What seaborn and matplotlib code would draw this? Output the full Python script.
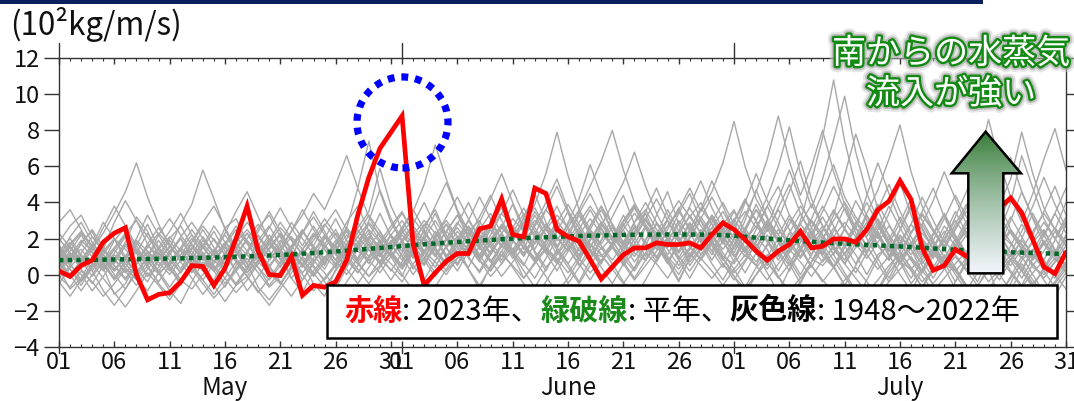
import numpy as np
import pandas as pd
import matplotlib
matplotlib.use("Agg")
import matplotlib.pyplot as plt
import matplotlib.patheffects as pe
import matplotlib.transforms as mtransforms
from matplotlib.patches import Rectangle, Ellipse, Polygon
from matplotlib.offsetbox import TextArea, HPacker, AnchoredOffsetbox
import seaborn as sns

# ---------------------------------------------------------------- data
# day index 0 = 1 May, 31 = 1 June, 61 = 1 July, 91 = 31 July
days = list(range(92))
month_names = ["May", "June", "July"]
month_start = [0, 31, 61]
month_label_day = [15, 46, 76]
tick_days = [0, 5, 10, 15, 20, 25, 30, 31, 36, 41, 46, 51, 56,
             61, 66, 71, 76, 81, 86, 91]
tick_labels = ["01", "06", "11", "16", "21", "26", "31",
               "01", "06", "11", "16", "21", "26",
               "01", "06", "11", "16", "21", "26", "31"]
y_ticks = [-4, -2, 0, 2, 4, 6, 8, 10, 12]

# 2023 southerly water-vapour flux (10^2 kg/m/s)
flux_2023 = [0.2, -0.1, 0.5, 0.8, 1.8, 2.3, 2.6, 0.0, -1.4, -1.1,
             -1.0, -0.4, 0.5, 0.45, -0.6, 0.35, 2.0, 3.8, 1.3, 0.0,
             -0.05, 1.0, -1.15, -0.6, -0.7, -0.4, 0.8, 3.3, 5.4, 7.0,
             7.9, 8.8, 1.7, -0.6, 0.1, 0.74, 1.17, 1.17, 2.54, 2.69,
             4.2, 2.22, 2.09, 4.8, 4.5, 2.5, 2.1, 1.85, 0.83, -0.24,
             0.43, 1.1, 1.48, 1.48, 1.76, 1.67, 1.67, 1.76, 1.48, 2.22,
             2.87, 2.5, 1.94, 1.3, 0.8, 1.3, 1.67, 2.4, 1.48, 1.57,
             1.98, 1.98, 1.8, 2.5, 3.6, 4.07, 5.2, 4.17, 1.48, 0.24,
             0.5, 1.39, 1.02, 1.5, 2.6, 3.7, 4.25, 3.43, 1.94, 0.43,
             0.06, 1.24]

# climatological normal
normal = [0.80, 0.81, 0.81, 0.82, 0.83, 0.84, 0.85, 0.86, 0.87, 0.88,
          0.89, 0.90, 0.92, 0.93, 0.95, 0.97, 0.99, 1.01, 1.03, 1.06,
          1.09, 1.12, 1.16, 1.20, 1.24, 1.28, 1.33, 1.38, 1.43, 1.48,
          1.53, 1.58, 1.63, 1.68, 1.72, 1.77, 1.81, 1.85, 1.89, 1.92,
          1.96, 1.99, 2.02, 2.05, 2.07, 2.10, 2.12, 2.14, 2.16, 2.17,
          2.19, 2.20, 2.21, 2.22, 2.22, 2.23, 2.23, 2.22, 2.22, 2.21,
          2.19, 2.15, 2.10, 2.05, 2.00, 1.95, 1.90, 1.86, 1.82, 1.78,
          1.74, 1.71, 1.68, 1.65, 1.62, 1.59, 1.56, 1.53, 1.49, 1.45,
          1.42, 1.38, 1.35, 1.32, 1.29, 1.27, 1.24, 1.22, 1.20, 1.18,
          1.16, 1.15]

# past seasons 1948-2022 (selection)
past_01 = [1.2, 0.5, 1.8, 2.4, 1.1, 0.2, 0.9, 1.6, 2.8, 1.5,
           0.4, -0.6, 0.8, 1.9, 1.2, 2.6, 3.1, 1.8, 0.7, 1.4,
           2.2, 0.9, -0.3, 0.6, 1.7, 2.5, 1.3, 0.8, 2.0, 3.4,
           2.1, 1.0, 1.9, 2.7, 3.6, 2.2, 1.1, 2.4, 3.0, 1.7,
           0.6, 1.8, 3.2, 4.5, 2.9, 1.6, 2.3, 1.0, 2.7, 3.8,
           2.4, 1.2, 0.3, 1.9, 3.3, 4.6, 2.8, 1.5, 2.2, 3.1,
           1.9, 0.7, 2.5, 3.9, 2.6, 1.3, 0.5, 1.8, 3.0, 2.2,
           1.1, 2.6, 4.1, 3.0, 1.6, 0.8, 2.1, 1.4, 0.2, 1.5,
           2.7, 1.9, 0.6, -0.4, 1.0, 2.3, 1.7, 0.9, 1.8, 2.5,
           1.3, 0.4]
past_02 = [0.3, -0.8, -0.2, 0.9, 0.4, -1.1, -0.5, 0.6, 1.2, 0.1,
           -0.9, -1.6, -0.4, 0.7, 0.2, -0.7, 0.5, 1.3, 0.4, -0.6,
           0.2, 1.1, 0.6, -0.5, -1.2, 0.3, 0.9, 1.6, 0.8, 0.1,
           1.0, 1.7, 0.5, -0.3, 0.8, 1.5, 2.1, 0.9, 0.2, 1.3,
           2.0, 1.1, -0.2, 0.6, 1.4, 0.8, -0.5, 0.4, 1.2, 2.3,
           1.6, 0.5, 1.3, 2.6, 1.8, 0.7, -0.4, 0.9, 1.7, 0.6,
           -0.3, 0.8, 1.9, 1.2, 0.1, -1.0, 0.3, 1.4, 2.2, 1.0,
           0.4, -0.6, 0.5, 1.6, 2.4, 1.1, 0.0, -0.9, 0.2, 1.3,
           0.7, -0.4, 0.6, 1.5, 0.3, -1.3, -0.5, 0.8, 1.4, 0.2,
           -0.7, 0.1]
past_03 = [1.8, 2.7, 3.3, 2.1, 1.4, 2.9, 4.1, 3.0, 1.7, 0.8,
           1.5, 2.8, 3.9, 5.8, 4.2, 2.5, 1.3, 0.6, 1.9, 2.7,
           1.6, 0.9, 2.3, 3.5, 2.4, 1.2, 2.6, 4.8, 7.4, 4.6,
           2.9, 1.8, 0.9, 2.2, 3.4, 2.0, 1.1, 0.4, 1.6, 2.9,
           3.7, 2.5, 1.4, 2.8, 4.0, 5.3, 3.6, 2.2, 1.0, 1.9,
           3.2, 4.4, 2.8, 1.6, 0.7, 1.8, 3.0, 2.1, 3.6, 5.2,
           3.8, 2.4, 1.3, 0.5, 1.7, 3.1, 4.6, 6.3, 4.2, 2.7,
           1.5, 0.6, 1.8, 3.3, 2.2, 1.0, 2.5, 3.9, 2.6, 1.4,
           0.3, 1.6, 2.8, 4.3, 3.1, 1.9, 0.8, 2.0, 3.4, 2.2,
           1.1, 2.9]
past_04 = [-0.5, 0.4, 1.1, 0.2, -0.9, -1.7, -0.8, 0.3, -0.4, 0.8,
           1.6, 0.7, -0.2, -1.1, -0.3, 0.9, 1.8, 0.6, -0.7, -1.4,
           -0.6, 0.5, 1.4, 0.8, 0.1, -0.8, 0.4, 1.5, 2.3, 1.2,
           0.6, -0.1, 1.3, 2.5, 3.8, 5.1, 3.5, 2.0, 0.9, 1.7,
           2.6, 3.9, 2.4, 1.2, 0.2, 1.4, 2.9, 4.2, 6.1, 4.4,
           2.7, 1.5, 2.3, 3.4, 2.0, 0.8, -0.3, 0.9, 2.1, 1.3,
           0.4, 1.6, 3.0, 4.7, 3.2, 1.8, 0.6, -0.5, 0.7, 1.9,
           3.3, 5.5, 7.8, 5.9, 3.6, 2.1, 0.9, 1.7, 0.5, -0.6,
           -1.5, -0.4, 0.8, 1.9, 1.1, 0.0, -0.9, 0.3, 1.4, 0.6,
           -0.2, 0.7]
past_05 = [0.9, 1.6, 0.8, -0.1, 0.7, 1.9, 2.6, 1.4, 0.5, 1.2,
           0.3, -0.4, 0.6, 1.5, 2.4, 1.3, 0.2, -0.9, -0.1, 0.8,
           1.7, 2.9, 2.0, 1.1, 0.3, 1.4, 2.2, 1.5, 0.6, 1.8,
           2.7, 3.5, 2.3, 1.2, 0.4, 1.6, 2.8, 4.0, 2.7, 1.5,
           0.8, 2.0, 3.1, 2.2, 3.6, 4.9, 3.4, 2.1, 1.3, 0.6,
           1.8, 2.9, 3.8, 2.6, 1.4, 2.5, 3.7, 2.4, 1.1, 1.9,
           2.8, 3.6, 2.3, 1.5, 2.7, 4.2, 5.8, 4.1, 2.6, 1.2,
           0.4, 1.7, 2.9, 2.0, 0.9, -0.2, 1.0, 2.3, 3.5, 4.8,
           3.2, 1.9, 0.8, 1.6, 2.8, 3.9, 2.5, 1.4, 0.5, 1.3,
           2.4, 1.6]
past_06 = [1.4, 0.6, -0.3, 0.5, 1.3, 0.7, 1.8, 3.2, 2.4, 1.0,
           0.2, 1.1, 2.0, 1.2, 0.4, -0.5, 0.3, 1.2, 2.6, 3.3,
           2.1, 1.0, 0.1, 0.9, 2.0, 3.1, 1.9, 0.7, 1.5, 2.4,
           1.3, 0.5, 1.4, 0.6, 1.7, 2.8, 1.6, 0.3, -0.8, 0.5,
           1.6, 2.4, 1.5, 0.7, 1.9, 3.0, 2.1, 3.3, 2.2, 1.1,
           0.3, 1.5, 2.7, 1.8, 0.9, 2.1, 3.4, 4.5, 3.0, 1.7,
           0.8, 2.0, 1.3, 2.5, 3.8, 2.6, 1.5, 3.0, 5.2, 7.6,
           10.8, 7.4, 4.9, 3.2, 2.0, 3.4, 5.1, 3.3, 1.8, 0.9,
           2.2, 3.5, 2.3, 1.2, 0.4, 1.6, 3.0, 4.6, 3.1, 1.7,
           0.8, 1.9]
past_07 = [0.1, 0.9, 1.7, 1.0, 0.2, 1.1, 0.4, -0.3, 0.5, 1.4,
           2.1, 1.3, 0.5, 1.6, 2.7, 1.8, 0.9, 0.1, 0.8, 1.7,
           0.9, -0.2, -1.0, 0.2, 1.0, 0.4, 1.3, 2.1, 1.4, 0.6,
           1.5, 2.4, 1.7, 0.8, 2.0, 1.1, 0.2, 1.3, 2.5, 3.4,
           2.3, 1.2, 0.5, 1.8, 2.6, 1.5, 0.6, -0.4, 0.8, 1.9,
           2.8, 1.7, 0.7, 1.6, 2.9, 2.0, 1.2, 2.4, 3.2, 2.3,
           1.2, 0.3, -0.7, 0.4, 1.1, -0.1, -1.2, -0.4, 0.7, 1.5,
           0.5, -0.6, -1.4, -0.3, 0.9, 1.8, 0.7, -0.5, 0.3, 1.2,
           0.4, -0.8, -1.9, -0.7, 0.5, 1.3, 0.2, -0.6, 0.6, -0.3,
           -1.2, -0.1]
past_08 = [2.3, 1.5, 0.7, 1.6, 2.9, 2.0, 0.8, 0.1, 1.0, 2.2,
           3.1, 2.2, 1.3, 0.5, 1.2, 2.3, 3.5, 4.6, 3.2, 1.9,
           0.8, 1.6, 2.5, 1.4, 0.5, 1.7, 2.9, 3.8, 2.4, 1.3,
           2.2, 1.0, 0.0, 0.9, 2.1, 3.2, 4.3, 3.1, 2.0, 1.1,
           2.3, 1.4, 0.6, -0.2, 0.9, 2.0, 1.3, 2.5, 3.6, 2.5,
           1.6, 0.8, 2.0, 3.1, 4.2, 3.0, 1.8, 0.7, 1.5, 2.6,
           3.5, 2.4, 4.0, 5.6, 4.1, 2.9, 1.7, 2.8, 3.9, 2.7,
           1.6, 0.8, 2.1, 3.4, 4.7, 6.4, 8.3, 5.7, 3.8, 2.5,
           1.4, 2.6, 3.7, 5.0, 3.6, 2.3, 1.2, 2.4, 3.8, 5.4,
           3.9, 2.6]
past_09 = [-0.2, 0.5, 0.0, -0.9, -0.1, 0.8, 0.2, -0.6, 0.3, 1.0,
           0.4, -0.4, 0.3, -0.5, -1.3, -0.6, 0.2, 0.9, 0.1, -0.7,
           -0.1, 0.7, 0.0, -0.9, -0.2, 0.6, 1.4, 0.7, -0.1, 0.5,
           1.2, 0.4, 1.3, 2.0, 1.1, 0.2, 0.9, 1.7, 0.8, -0.1,
           0.6, 1.4, 2.2, 1.3, 0.4, 1.1, 1.9, 0.9, 0.1, 0.8,
           1.5, 0.6, -0.3, 0.5, 1.3, 2.0, 1.0, 0.2, 1.1, 1.8,
           0.9, 0.1, 0.8, 1.7, 0.7, -0.2, 0.6, 1.5, 0.5, -0.4,
           0.4, 1.2, 2.0, 1.1, 0.3, 1.0, 1.8, 0.8, -0.1, -0.9,
           -0.2, 0.6, 1.3, 0.5, -0.4, 0.3, 1.1, 0.4, -0.5, 0.2,
           0.9, 0.1]
past_10 = [1.0, 2.1, 2.9, 1.8, 0.9, 0.2, 1.0, 2.0, 3.3, 2.2,
           1.2, 0.3, 1.4, 2.5, 1.5, 0.6, 1.5, 2.3, 1.2, 0.4,
           1.3, 2.4, 3.6, 2.5, 1.4, 0.6, 1.7, 2.6, 3.5, 5.9,
           3.8, 2.5, 1.2, 0.5, 1.6, 2.4, 3.3, 2.1, 1.0, 2.2,
           3.4, 4.7, 3.3, 2.0, 1.2, 2.4, 3.5, 2.6, 1.5, 2.7,
           3.9, 5.1, 6.8, 4.9, 3.4, 2.2, 1.3, 2.5, 3.7, 2.8,
           1.7, 2.9, 4.1, 3.0, 1.9, 1.0, 2.3, 3.4, 2.3, 1.1,
           2.4, 3.7, 2.5, 4.4, 6.2, 4.5, 3.0, 1.8, 1.0, 2.2,
           3.3, 2.1, 1.1, 2.3, 3.6, 2.4, 4.0, 6.6, 4.8, 3.1,
           2.0, 3.2]
past_11 = [0.6, -0.2, 0.8, 1.5, 0.6, -0.3, 0.4, 1.3, 0.5, -0.5,
           -1.2, -0.4, 0.4, 1.2, 0.5, -0.2, -1.0, -0.3, 0.6, 1.5,
           2.3, 1.3, 0.4, 1.2, 2.1, 1.2, 0.3, -0.5, 0.4, 1.3,
           2.2, 3.0, 2.0, 1.0, 0.1, 0.9, 1.8, 2.7, 1.8, 0.8,
           -0.1, 0.7, 1.6, 0.8, -0.1, -1.0, -0.2, 0.8, 1.9, 2.8,
           1.9, 0.9, 0.2, 1.2, 2.3, 1.4, 0.5, 1.4, 2.5, 1.6,
           0.6, -0.3, 0.7, 1.8, 2.9, 1.9, 0.8, -0.2, 0.7, 1.7,
           0.8, -0.1, -1.0, -1.8, -0.9, 0.1, 1.0, 0.2, -0.7, 0.2,
           1.1, 0.3, -0.6, -1.4, -2.0, -1.1, -0.2, 0.6, -0.3, -1.1,
           -0.4, 0.5]
past_12 = [2.9, 3.6, 2.5, 1.4, 2.6, 3.8, 2.7, 1.6, 0.6, 1.5,
           2.4, 3.4, 2.2, 1.1, 0.3, 1.2, 2.1, 1.3, 2.4, 3.5,
           2.4, 1.4, 0.5, 1.6, 2.7, 3.6, 2.5, 1.5, 3.0, 4.7,
           3.1, 1.9, 2.8, 4.0, 2.7, 1.5, 0.6, 1.7, 2.9, 4.2,
           5.6, 4.0, 2.6, 1.4, 2.6, 3.8, 2.5, 1.3, 2.5, 3.6,
           2.4, 1.3, 2.4, 3.5, 4.8, 3.3, 2.1, 1.0, 2.1, 3.3,
           2.2, 1.2, 2.4, 3.6, 2.4, 3.7, 5.0, 3.4, 2.2, 3.5,
           4.9, 3.6, 2.3, 1.2, 2.5, 3.8, 2.6, 1.5, 2.8, 4.1,
           5.7, 4.2, 2.8, 1.6, 2.7, 3.9, 5.3, 7.9, 5.6, 3.7,
           2.5, 4.0]
past_13 = [0.4, 1.2, 0.3, -0.5, 0.5, 1.4, 2.2, 1.3, 0.4, -0.4,
           0.5, 1.4, 0.6, -0.3, 0.6, 1.6, 0.8, -0.1, -1.0, -0.2,
           0.7, 1.6, 0.8, 0.0, 0.9, 1.9, 1.0, 0.1, 1.0, 1.9,
           1.0, 0.0, -0.9, -1.6, -0.7, 0.3, 1.2, 0.3, -0.6, 0.4,
           1.3, 0.4, -0.5, -1.3, -0.4, 0.6, 1.5, 0.6, -0.3, 0.7,
           1.6, 0.7, -0.2, 0.8, 1.8, 0.9, 0.0, 1.1, 2.0, 1.1,
           2.2, 3.1, 2.1, 1.2, 0.3, 1.3, 2.3, 1.4, 0.4, 1.5,
           2.6, 1.6, 0.6, 1.7, 2.9, 1.8, 0.8, -0.2, 0.8, 1.9,
           1.0, 0.0, -0.9, 0.1, 1.2, 2.1, 1.2, 0.2, -0.7, 0.4,
           1.4, 0.5]
past_14 = [1.6, 0.8, 1.7, 2.5, 1.5, 0.5, -0.3, 0.6, 1.7, 2.6,
           1.7, 0.7, 1.8, 2.9, 3.8, 2.6, 1.5, 0.6, 1.6, 2.6,
           3.7, 2.6, 1.6, 2.7, 1.7, 0.8, 2.0, 2.9, 1.8, 0.7,
           1.7, 2.6, 3.6, 2.5, 1.4, 0.6, 1.8, 3.0, 4.3, 3.1,
           1.9, 0.9, 2.1, 3.3, 2.2, 1.1, 2.3, 3.4, 4.5, 3.2,
           2.0, 3.3, 2.1, 1.0, 2.2, 3.6, 2.4, 3.8, 5.2, 3.7,
           2.5, 1.4, 2.6, 1.5, 0.5, 1.7, 3.1, 2.1, 1.1, 2.4,
           3.6, 2.6, 1.5, 2.7, 3.9, 2.8, 1.6, 2.8, 4.3, 3.0,
           1.8, 3.2, 4.6, 6.0, 8.6, 6.2, 4.3, 2.9, 4.5, 6.4,
           8.1, 5.8]
past_15 = [0.7, 1.5, 0.6, 1.6, 0.7, -0.2, 0.8, 1.8, 1.0, 0.2,
           1.1, 2.0, 1.1, 0.2, 1.3, 2.2, 1.3, 0.3, 1.4, 0.5,
           -0.4, -1.2, -0.3, 0.7, 1.6, 0.8, 0.0, 0.9, 2.0, 1.1,
           0.2, 1.2, 2.3, 1.3, 2.4, 1.5, 0.5, 1.6, 0.7, 1.8,
           2.8, 1.9, 1.0, 2.1, 1.2, 0.2, 1.3, 2.4, 1.4, 0.4,
           -0.5, 0.6, 1.7, 2.7, 1.7, 0.7, 1.8, 2.9, 1.9, 0.8,
           1.9, 3.0, 4.2, 2.9, 1.8, 0.8, 1.9, 1.0, 2.1, 3.2,
           2.1, 1.1, 0.1, 1.2, 2.3, 1.3, 2.5, 3.7, 2.5, 1.4,
           0.5, 1.5, 2.6, 1.6, 0.6, 1.7, 0.8, -0.2, 0.9, 1.9,
           1.0, 2.2]
past_16 = [1.1, 0.3, -0.6, 0.4, 1.4, 0.6, 1.6, 0.8, -0.1, 0.9,
           1.9, 1.0, 0.1, 1.0, 2.0, 1.1, 0.2, 1.2, 2.2, 1.3,
           0.4, 1.4, 2.4, 1.5, 0.6, 1.6, 0.7, 1.8, 2.8, 1.9,
           1.0, 1.9, 1.0, 2.0, 3.0, 2.0, 1.0, 2.1, 1.1, 0.2,
           1.3, 2.3, 3.4, 2.4, 1.4, 2.5, 1.5, 0.5, 1.5, 2.6,
           1.6, 2.7, 3.7, 2.6, 1.6, 0.6, 1.7, 2.8, 1.8, 2.9,
           4.0, 2.8, 1.8, 3.0, 4.3, 6.0, 8.2, 5.6, 3.7, 5.3,
           7.5, 9.9, 6.8, 4.5, 3.0, 1.9, 3.2, 2.1, 1.1, 2.3,
           3.4, 2.2, 1.2, 2.4, 1.4, 0.4, 1.6, 2.8, 1.8, 0.8,
           1.9, 3.0]
past_17 = [-0.4, -1.2, -0.3, 0.6, -0.2, -1.0, -1.8, -0.9, 0.1, -0.6,
           -1.4, -0.5, 0.4, -0.3, -1.1, -0.2, 0.7, -0.1, -0.9, -1.7,
           -0.8, 0.1, 0.9, 0.1, -0.7, 0.2, 1.1, 0.3, -0.5, 0.4,
           1.3, 0.5, 1.5, 2.4, 1.5, 0.6, 1.6, 2.6, 1.6, 0.7,
           1.7, 2.7, 1.8, 0.8, 1.9, 2.9, 3.9, 2.8, 1.7, 0.7,
           1.8, 2.8, 1.8, 0.8, 1.9, 3.0, 2.0, 1.0, 2.1, 3.2,
           2.1, 1.1, 0.1, 1.2, 2.2, 1.2, 0.2, 1.3, 2.4, 1.4,
           0.4, 1.5, 2.6, 1.6, 0.6, -0.4, 0.7, 1.8, 0.8, -0.2,
           0.9, 2.0, 1.0, 0.0, 1.1, 2.2, 1.2, 0.2, 1.3, 2.4,
           1.4, 0.4]
past_18 = [0.5, 1.3, 2.2, 1.2, 0.3, 1.2, 2.1, 1.2, 2.3, 1.4,
           0.5, 1.5, 2.5, 1.6, 0.7, 1.7, 2.7, 1.8, 0.9, 1.9,
           2.9, 2.0, 1.1, 2.1, 3.1, 2.2, 1.3, 2.3, 3.3, 2.4,
           1.5, 2.5, 3.5, 5.0, 7.2, 5.3, 3.6, 2.4, 1.4, 2.5,
           1.5, 2.6, 3.7, 2.6, 1.6, 2.7, 1.7, 0.8, 1.9, 2.9,
           1.9, 0.9, 2.0, 3.1, 2.1, 1.1, 2.2, 3.3, 2.3, 1.3,
           2.4, 3.5, 2.4, 1.4, 2.5, 3.6, 2.5, 1.5, 2.6, 3.8,
           2.7, 1.6, 2.8, 4.0, 2.8, 1.7, 2.9, 4.2, 3.0, 1.9,
           3.1, 4.4, 3.2, 2.0, 3.3, 4.7, 6.5, 4.6, 3.2, 2.1,
           3.4, 4.8]
past_19 = [1.3, 2.0, 1.1, 0.2, 1.1, 2.0, 1.0, 0.0, 1.0, 1.9,
           1.0, 0.1, 1.1, 2.1, 1.2, 0.3, -0.5, 0.4, 1.3, 2.2,
           1.3, 0.4, 1.4, 2.3, 1.4, 0.5, 1.5, 2.5, 1.6, 0.7,
           1.7, 0.8, 1.8, 2.8, 1.9, 1.0, 2.0, 3.0, 2.1, 1.2,
           2.2, 1.3, 2.4, 3.5, 2.5, 1.5, 2.6, 1.6, 2.7, 3.8,
           2.8, 1.8, 2.9, 4.0, 2.9, 1.9, 0.9, 2.0, 3.1, 4.3,
           3.1, 2.0, 3.3, 4.6, 6.4, 8.8, 6.3, 4.4, 6.0, 8.0,
           5.7, 3.9, 2.6, 1.5, 2.7, 1.6, 0.6, 1.7, 2.8, 1.7,
           0.7, 1.8, 3.0, 1.9, 0.8, 2.0, 3.2, 2.1, 1.0, 2.2,
           3.4, 2.3]
past_20 = [0.8, 0.0, -0.9, 0.0, 0.9, 0.0, -0.8, 0.1, 1.0, 0.2,
           -0.7, 0.2, 1.1, 0.3, -0.6, -1.5, -0.6, 0.3, 1.2, 0.4,
           -0.5, 0.4, 1.3, 0.5, -0.4, -1.3, -0.4, 0.5, 1.4, 0.6,
           -0.3, 0.7, 1.6, 0.8, -0.1, 0.9, 1.9, 1.0, 0.1, 1.1,
           2.1, 1.2, 0.2, -0.7, 0.3, 1.3, 0.4, -0.5, 0.5, 1.5,
           0.6, -0.4, -1.3, -0.3, 0.8, 1.8, 0.8, -0.2, 0.9, 1.9,
           0.9, -0.1, -1.1, 0.0, 1.0, 2.0, 1.0, 0.0, 1.1, 2.1,
           1.1, 0.1, -0.9, -1.9, -0.8, 0.3, 1.3, 0.3, -0.7, 0.4,
           1.4, 0.4, -0.6, -1.6, -2.3, -1.2, -0.1, 1.0, 0.0, -1.0,
           0.1, 1.1]
past_21 = [0.9, 1.7, 2.4, 1.6, 0.8, 1.5, 2.3, 3.0, 2.1, 1.2,
           0.6, 1.4, 2.2, 1.5, 0.7, 1.6, 2.5, 1.7, 0.9, 1.8,
           2.6, 1.9, 1.1, 1.9, 2.8, 2.0, 1.2, 2.1, 2.9, 2.2,
           1.4, 2.3, 3.1, 2.3, 1.5, 2.4, 3.3, 2.5, 1.7, 2.6,
           3.4, 2.6, 1.8, 2.7, 3.6, 2.8, 1.9, 2.9, 3.8, 2.9,
           2.0, 3.0, 3.9, 3.0, 2.1, 3.1, 4.1, 3.2, 2.3, 3.3,
           2.4, 1.6, 2.6, 3.6, 2.7, 1.8, 2.8, 3.8, 2.9, 2.0,
           3.0, 4.0, 3.0, 2.1, 3.1, 2.2, 1.3, 2.3, 3.3, 2.4,
           1.5, 2.5, 3.5, 2.6, 1.7, 2.7, 1.8, 0.9, 1.9, 2.9,
           2.0, 1.1]
past_22 = [0.2, 1.1, 1.4, 0.6, 0.3, 0.9, 1.7, 1.2, -0.1, 0.4,
           1.3, 2.0, 0.9, 0.5, 1.2, 1.5, 0.7, 0.1, 1.1, 1.8,
           1.2, -0.2, 0.6, 1.5, 0.9, 1.6, 2.4, 1.3, 0.8, 1.1,
           2.2, 1.5, 0.3, 1.2, 2.1, 0.9, 0.6, 1.4, 2.0, 2.7,
           1.6, 1.1, 1.9, 2.4, 1.5, 0.7, 1.8, 2.6, 1.3, 1.0,
           1.7, 2.5, 1.2, 0.8, 1.6, 2.3, 1.9, 0.5, 1.4, 2.2,
           1.0, 0.6, 1.5, 2.1, 1.4, 0.2, 1.3, 2.0, 0.9, 0.5,
           1.2, 1.9, 1.1, 0.0, 1.1, 1.6, 0.7, 0.3, 1.0, 1.8,
           0.6, 0.2, 0.9, 1.3, 0.5, -0.3, 0.8, 1.5, 0.4, 0.0,
           0.7, 1.2]
past_23 = [1.5, 0.7, 1.2, 2.1, 1.3, 0.9, 0.1, 0.8, 1.6, 1.1,
           2.0, 2.7, 1.6, 0.8, 1.4, 0.5, 1.1, 2.0, 2.8, 1.9,
           1.0, 1.5, 2.3, 3.2, 2.2, 1.1, 0.5, 1.4, 2.1, 1.6,
           2.5, 3.4, 2.4, 1.6, 2.2, 3.0, 2.1, 1.3, 2.4, 1.8,
           1.0, 2.2, 2.9, 3.7, 2.6, 1.9, 2.8, 3.5, 2.3, 1.4,
           2.1, 1.7, 2.9, 3.6, 2.5, 1.6, 2.4, 3.2, 4.0, 2.8,
           1.9, 2.7, 3.5, 2.6, 3.8, 4.9, 3.3, 2.2, 3.1, 4.5,
           6.1, 4.3, 3.2, 2.4, 3.6, 5.0, 3.5, 2.3, 3.4, 2.5,
           1.6, 2.8, 3.9, 2.7, 1.8, 3.0, 4.4, 3.1, 2.2, 3.5,
           4.9, 3.3]
past_24 = [-0.1, -0.7, 0.2, -0.4, -1.2, -0.5, 0.3, -0.2, -0.9, 0.1,
           0.6, -0.3, -0.8, 0.0, 0.8, 0.2, -0.6, -0.1, 0.7, 0.1,
           -0.5, 0.3, 1.0, 0.4, -0.3, 0.5, 1.2, 0.6, -0.1, 0.8,
           0.3, -0.4, 0.6, 1.3, 0.7, 0.0, 0.9, 1.6, 0.8, 0.2,
           1.1, 0.5, -0.2, 0.7, 1.5, 0.9, 0.1, 1.0, 1.7, 1.1,
           0.3, -0.5, 0.4, 1.2, 0.6, -0.2, 0.8, 1.5, 0.9, 0.2,
           -0.6, 0.3, 1.1, 0.5, -0.3, 0.6, 1.4, 0.7, -0.1, 0.8,
           1.5, 0.6, -0.2, -1.0, -0.3, 0.5, 1.2, 0.4, -0.4, 0.3,
           1.0, 0.2, -0.7, -1.5, -0.8, 0.1, 0.9, 0.2, -0.6, -1.3,
           -0.5, 0.3]
past_25 = [1.1, 1.8, 1.0, 0.4, 1.3, 2.0, 1.4, 0.7, 1.5, 2.3,
           1.6, 0.9, 1.7, 1.0, 0.2, 0.9, 1.8, 2.5, 1.7, 1.0,
           1.9, 1.2, 0.5, 1.3, 2.2, 1.5, 0.8, 1.7, 2.5, 1.8,
           1.0, 1.9, 2.7, 1.9, 1.1, 2.0, 2.9, 2.1, 3.2, 4.4,
           3.0, 1.9, 2.8, 3.9, 5.6, 7.9, 5.5, 3.6, 2.5, 1.7,
           2.6, 1.8, 1.0, 1.9, 2.8, 2.0, 1.2, 2.1, 3.0, 2.2,
           1.4, 2.3, 1.5, 0.7, 1.6, 2.5, 1.7, 0.9, 1.8, 2.7,
           1.9, 1.1, 2.0, 2.9, 2.1, 1.3, 2.2, 1.4, 0.6, 1.5,
           2.4, 1.6, 0.8, 1.7, 2.6, 1.8, 1.0, 1.9, 1.1, 0.3,
           1.2, 2.1]
past_26 = [2.0, 1.2, 0.5, 1.4, 2.3, 3.4, 4.6, 6.2, 4.3, 2.8,
           1.6, 0.9, 1.8, 2.7, 1.9, 1.1, 2.0, 2.9, 2.1, 1.3,
           0.6, 1.5, 2.4, 1.6, 0.8, 1.7, 2.6, 1.8, 1.0, 1.9,
           1.1, 0.3, 1.2, 2.1, 1.3, 0.5, 1.4, 2.3, 1.5, 0.7,
           1.6, 2.5, 1.7, 0.9, 1.8, 2.7, 1.9, 1.1, 2.0, 2.9,
           2.1, 1.3, 2.2, 3.1, 2.3, 1.5, 2.4, 1.6, 0.8, 1.7,
           2.6, 1.8, 1.0, 1.9, 2.8, 2.0, 1.2, 2.1, 3.0, 2.2,
           1.4, 0.6, 1.5, 2.4, 1.6, 0.8, 1.7, 0.9, 0.1, 1.0,
           1.9, 1.1, 0.3, 1.2, 2.1, 1.3, 0.5, 1.4, 0.6, -0.2,
           0.7, 1.6]
past_27 = [0.6, 0.0, 0.8, 1.7, 1.1, 0.3, 1.0, 1.9, 1.3, 0.5,
           1.2, 2.1, 2.9, 2.0, 1.2, 0.6, 1.4, 2.3, 1.6, 0.8,
           1.5, 2.4, 3.3, 4.5, 3.6, 5.0, 6.6, 4.8, 3.2, 2.1,
           1.3, 2.2, 1.4, 0.6, 1.5, 2.4, 1.8, 1.0, 1.9, 2.8,
           2.0, 1.2, 2.1, 3.0, 2.2, 1.4, 0.6, 1.5, 2.4, 1.6,
           0.8, 1.7, 2.6, 1.8, 1.0, 1.9, 2.8, 3.7, 2.7, 1.9,
           2.8, 2.0, 1.2, 2.1, 3.0, 2.2, 1.4, 2.3, 1.5, 0.7,
           1.6, 2.5, 1.7, 0.9, 1.8, 2.7, 1.9, 1.1, 2.0, 1.2,
           0.4, 1.3, 2.2, 1.4, 0.6, 1.5, 2.4, 1.6, 0.8, 1.7,
           2.6, 1.8]
past_28 = [1.0, 0.3, -0.4, 0.4, 1.1, 0.5, -0.2, 0.6, 1.3, 0.7,
           0.0, 0.8, 1.5, 0.9, 0.2, 1.0, 1.7, 1.1, 0.4, -0.3,
           0.5, 1.2, 0.6, -0.1, 0.7, 1.4, 0.8, 0.1, 0.9, 1.6,
           1.0, 1.8, 2.5, 1.7, 1.0, 1.9, 2.6, 1.8, 1.1, 2.0,
           2.7, 1.9, 1.2, 2.1, 1.3, 0.6, 1.5, 2.2, 1.4, 0.7,
           1.6, 2.3, 1.5, 0.8, 1.7, 1.0, 0.3, 1.2, 0.5, -0.2,
           0.6, -0.1, -0.8, 0.0, 0.7, -0.1, -0.9, -0.2, 0.5, -0.3,
           -1.0, -0.3, 0.4, -0.4, -1.1, -0.4, 0.3, 1.0, 0.2, -0.5,
           0.3, 1.0, 0.2, -0.6, 0.2, 0.9, 0.1, -0.7, 0.1, 0.8,
           0.0, -0.8]
past_29 = [0.8, 1.6, 2.3, 1.5, 0.7, 1.4, 0.6, -0.1, 0.7, 1.5,
           0.8, 0.1, 0.9, 1.7, 1.0, 0.3, 1.1, 1.9, 1.2, 0.5,
           1.3, 2.1, 1.4, 0.7, 1.5, 2.3, 1.6, 0.9, 1.7, 1.0,
           1.8, 2.6, 1.9, 1.2, 2.0, 2.8, 2.1, 1.4, 2.2, 1.5,
           2.3, 3.1, 2.4, 1.7, 2.5, 3.3, 2.6, 3.6, 4.9, 6.3,
           8.0, 5.8, 4.0, 2.8, 1.9, 2.7, 3.5, 2.6, 1.8, 2.6,
           1.8, 1.0, 1.9, 2.7, 1.9, 1.1, 2.0, 2.8, 2.0, 1.2,
           2.1, 2.9, 2.1, 1.3, 2.2, 1.4, 0.6, 1.5, 2.3, 1.5,
           0.7, 1.6, 2.4, 1.6, 0.8, 1.7, 2.5, 1.7, 0.9, 1.8,
           1.0, 0.2]
past_30 = [0.4, 1.0, 1.9, 1.3, 0.5, -0.2, 0.6, 1.4, 0.8, 0.0,
           0.7, 1.5, 0.9, 0.2, 1.0, 1.8, 1.2, 0.4, 1.2, 2.0,
           1.4, 0.6, 1.4, 2.2, 1.6, 0.8, 1.6, 2.4, 1.8, 1.0,
           1.9, 1.3, 2.2, 3.0, 2.3, 1.5, 2.4, 1.7, 0.9, 1.8,
           2.6, 1.9, 1.1, 2.0, 2.8, 2.1, 1.3, 2.2, 3.1, 2.3,
           1.6, 2.5, 3.4, 2.6, 1.8, 2.7, 3.6, 4.8, 3.5, 4.6,
           6.2, 8.5, 6.0, 4.2, 3.1, 2.2, 3.3, 2.4, 1.5, 2.5,
           3.5, 2.5, 1.6, 2.6, 1.7, 0.8, 1.8, 2.8, 1.9, 1.0,
           2.0, 3.0, 2.1, 1.2, 2.2, 3.2, 2.3, 1.4, 2.4, 3.4,
           2.5, 1.6]

past_runs = [past_01, past_02, past_03, past_04, past_05, past_06, past_07,
             past_08, past_09, past_10, past_11, past_12, past_13, past_14,
             past_15, past_16, past_17, past_18, past_19, past_20, past_21,
             past_22, past_23, past_24, past_25, past_26, past_27, past_28,
             past_29, past_30]

# ---------------------------------------------------------------- style
sns.set_theme(style="white")
plt.rcParams["font.family"] = ["Noto Sans CJK JP", "DejaVu Sans"]
plt.rcParams["axes.unicode_minus"] = True

W, H = 1074, 401
fig = plt.figure(figsize=(W / 100, H / 100), dpi=100)
fig.patch.set_facecolor("white")


def fx(px):
    return px / W


def fy(py):
    return 1 - py / H


ax_left, ax_right, ax_top, ax_bottom = 59, 1066, 58.3, 346.7
ax_h = ax_bottom - ax_top
ax = fig.add_axes([fx(ax_left), fy(ax_bottom), fx(ax_right - ax_left),
                   ax_h / H])
ax.set_facecolor("white")

GRAY = "#a8a8a8"
RED = "#ff0000"
GREEN = "#00692a"
AXC = "#333333"
TXT = "#111111"

# past seasons
past_df = pd.DataFrame({
    "day": days * len(past_runs),
    "value": [v for run in past_runs for v in run],
    "run": [k for k, run in enumerate(past_runs) for _ in run],
})
sns.lineplot(data=past_df, x="day", y="value", units="run", estimator=None,
             color=GRAY, lw=1.0, ax=ax, legend=False, zorder=1)

# normal
sns.lineplot(x=days, y=normal, color=GREEN, lw=3.2, ax=ax,
             linestyle=(0, (1, 0.95)), dash_capstyle="butt", zorder=3)

# 2023
sns.lineplot(x=days, y=flux_2023, color=RED, lw=3.4, ax=ax,
             solid_joinstyle="miter", zorder=4)

ax.set_xlim(0, 91)
ax.set_ylim(-4, 12)
ax.set_xlabel("")
ax.set_ylabel("")

# axes frame and ticks
for s in ax.spines.values():
    s.set_color(AXC)
    s.set_linewidth(1.0)
    s.set_visible(True)

ax.set_yticks(y_ticks)
ax.set_yticklabels([str(v).replace("-", "\u2212") for v in y_ticks])
ax.tick_params(axis="y", which="major", direction="out", left=True,
               right=True, length=11, width=1.0, color=AXC, pad=3,
               labelsize=17, labelcolor=TXT)
for t in ax.yaxis.get_major_ticks():
    t.tick2line.set_markersize(6)

ax.set_xticks(tick_days)
ax.set_xticklabels(tick_labels)
ax.set_xticks(days, minor=True)
ax.tick_params(axis="x", which="major", direction="in", top=True,
               bottom=True, length=4.5, width=1.0, color=AXC, pad=3,
               labelsize=17, labelcolor=TXT)
ax.tick_params(axis="x", which="minor", direction="in", top=True,
               bottom=True, length=2.2, width=0.8, color=AXC)

# month boundary marks reaching outside the frame
trans = mtransforms.blended_transform_factory(ax.transData, ax.transAxes)
for d in month_start:
    ax.plot([d, d], [1.0, 1.0 + 15 / ax_h], color=AXC, lw=1.0,
            transform=trans, clip_on=False, zorder=6)
    ax.plot([d, d], [0.0, -6 / ax_h], color=AXC, lw=1.0,
            transform=trans, clip_on=False, zorder=6)

for name, d in zip(month_names, month_label_day):
    ax.text(d, -(388 - ax_bottom) / ax_h, name, transform=trans,
            ha="center", va="center", fontsize=17.5, color=TXT)

# unit label
fig.text(fx(10), fy(24), "(10²kg/m/s)", fontsize=22.5, va="center",
         ha="left", color=TXT)

# header rule
fig.add_artist(Rectangle((0, fy(3.5)), fx(983), 3.5 / H,
                         transform=fig.transFigure, facecolor="#0b1f5e",
                         edgecolor="none", zorder=10))

# dotted circle around the peak
ax.add_patch(Ellipse((31.04, 8.44), width=8.22, height=5.05, fill=False,
                     edgecolor="#0000ff", lw=5.2,
                     linestyle=(0, (0.95, 0.95)), capstyle="butt",
                     zorder=7, clip_on=False))

# gradient arrow
arrow_xy = [(83.74, 7.93), (86.93, 5.62), (85.33, 5.62), (85.33, 0.07),
            (82.17, 0.07), (82.17, 5.62), (80.67, 5.62)]
arrow = Polygon(arrow_xy, closed=True, facecolor="none", edgecolor="black",
                lw=1.8, zorder=9, joinstyle="miter")
top_col = np.array([0.17, 0.46, 0.17])
bot_col = np.array([0.95, 0.96, 0.99])
t = np.linspace(0, 1, 256)[:, None] ** 0.75
grad = (top_col[None, :] * (1 - t) + bot_col[None, :] * t)[:, None, :]
img = ax.imshow(grad, extent=[80.67, 86.93, 0.07, 7.93], origin="upper",
                aspect="auto", zorder=8, interpolation="bilinear")
clip = Polygon(arrow_xy, closed=True, transform=ax.transData)
img.set_clip_path(clip)
ax.add_patch(arrow)
ax.set_xlim(0, 91)
ax.set_ylim(-4, 12)

# legend box
fig.add_artist(Rectangle((fx(327), fy(338)), fx(1057 - 327), 53 / H,
                         transform=fig.transFigure, facecolor="white",
                         edgecolor="black", lw=1.8, zorder=11))
fs = 21
parts = [("赤線", RED, "bold"), (": 2023年、", "black", "normal"),
         ("緑破線", "#1a8a1a", "bold"), (": 平年、", "black", "normal"),
         ("灰色線", "black", "bold"), (": 1948〜2022年", "black", "normal")]
boxes = [TextArea(s, textprops=dict(color=c, fontsize=fs, fontweight=w))
         for s, c, w in parts]
pack = HPacker(children=boxes, align="baseline", pad=0, sep=0)
anchored = AnchoredOffsetbox(loc="center left", child=pack, pad=0,
                             borderpad=0, frameon=False,
                             bbox_to_anchor=(fx(344), fy(311)),
                             bbox_transform=fig.transFigure)
anchored.set_zorder(12)
fig.add_artist(anchored)

# headline
fig.text(fx(951), fy(74), "南からの水蒸気\n流入が強い", fontsize=24.5,
         color="white", ha="center", va="center", linespacing=1.2,
         multialignment="center", zorder=13,
         path_effects=[pe.withStroke(linewidth=9, foreground="#c8c8c8",
                                     alpha=0.45),
                       pe.withStroke(linewidth=6, foreground="#a0a0a0",
                                     alpha=0.55),
                       pe.Stroke(linewidth=3.4, foreground="#138a13"),
                       pe.Normal()])

fig.savefig("out.png", dpi=100, facecolor="white")
